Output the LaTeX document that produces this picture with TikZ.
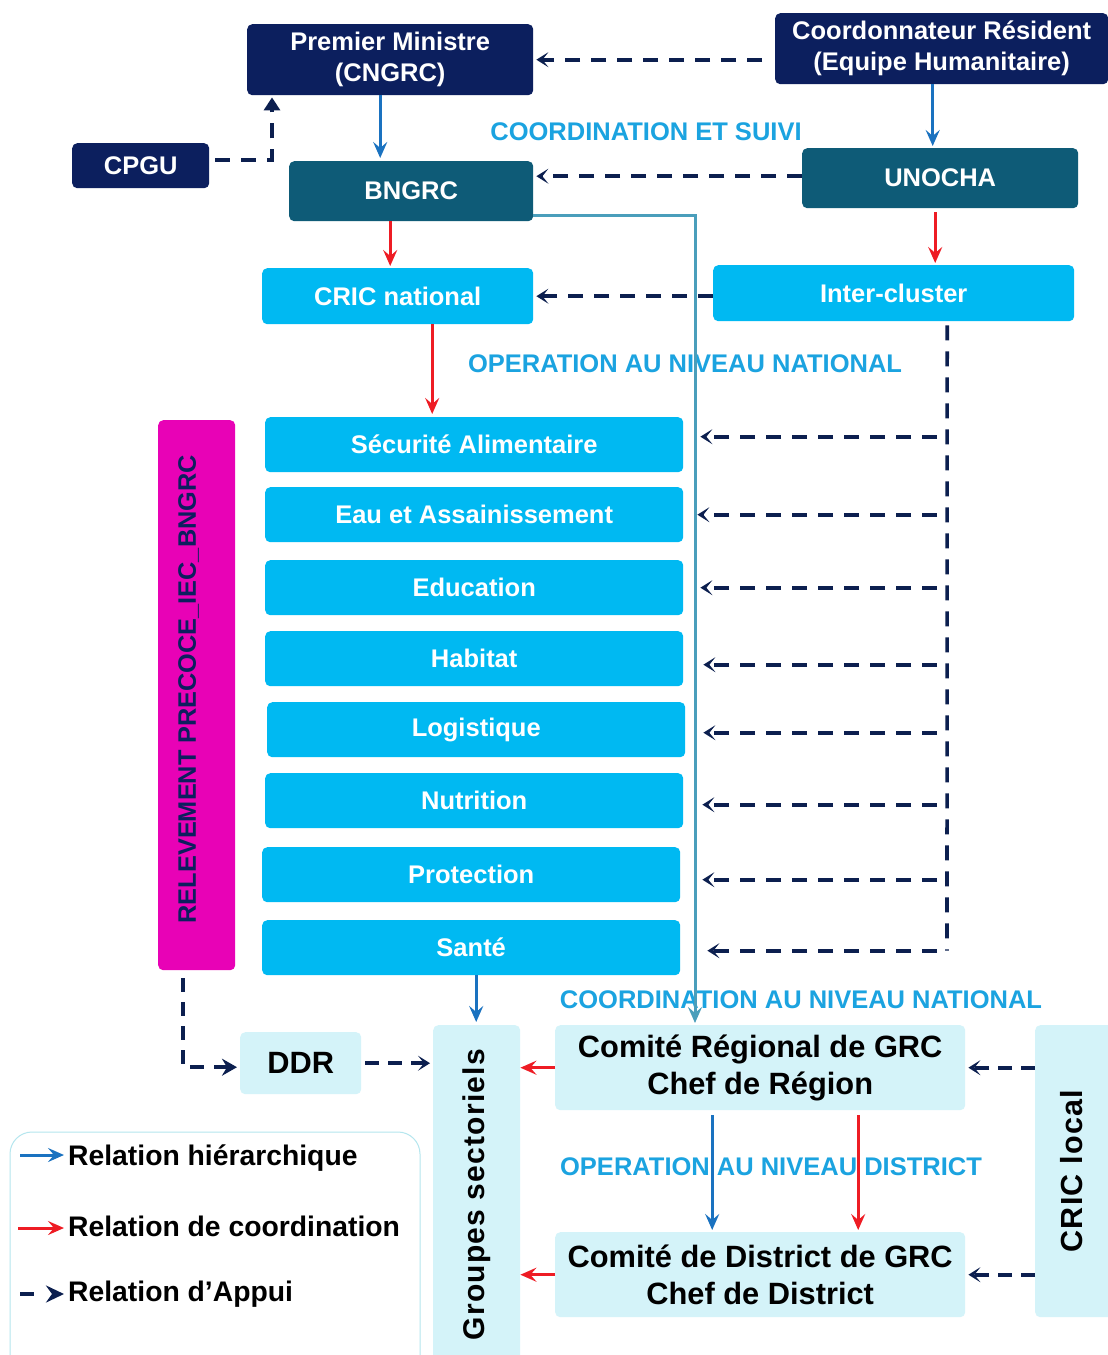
\documentclass[tikz,border=0pt]{standalone}
\usepackage{fontspec}
\setmainfont{Liberation Sans}
\usetikzlibrary{arrows.meta,calc}
\definecolor{navy}{HTML}{0C1F5E}
\definecolor{tealbox}{HTML}{0E5B77}
\definecolor{cyanbox}{HTML}{00B9F2}
\definecolor{palebox}{HTML}{D4F3F9}
\definecolor{magbox}{HTML}{E802B6}
\definecolor{lblue}{HTML}{1BA3E0}
\definecolor{hblue}{HTML}{1A72C0}
\definecolor{cred}{HTML}{EE1C24}
\definecolor{dnavy}{HTML}{0C1F4F}
\definecolor{tline}{HTML}{4A9EBB}
\definecolor{legline}{HTML}{B5E6EE}
\begin{document}
\begin{tikzpicture}[x=1pt,y=-1pt,
  box/.style={rounded corners=5pt, inner sep=0pt, align=center, anchor=north west,
    font=\bfseries\fontsize{25.5}{31}\selectfont, text=white},
  navybox/.style={box, fill=navy},
  tealb/.style={box, fill=tealbox},
  cyanb/.style={box, fill=cyanbox},
  paleb/.style={box, fill=palebox, text=black, font=\bfseries\fontsize{30.8}{37}\selectfont},
  lbl/.style={text=lblue, font=\bfseries\fontsize{25.5}{28}\selectfont, inner sep=0pt},
  hier/.style={draw=hblue, line width=3pt, -{Stealth[length=16pt,width=14pt,inset=6pt]}},
  coord/.style={draw=cred, line width=3pt, -{Stealth[length=16pt,width=14pt,inset=6pt]}},
  appui/.style={draw=dnavy, line width=3.6pt, dash pattern=on 15pt off 11pt, -{Stealth[length=12pt,width=15pt,inset=6pt]}},
  appuiline/.style={draw=dnavy, line width=3.6pt, dash pattern=on 15pt off 11pt},
  vtxt/.style={rotate=90, text=black, font=\bfseries\fontsize{30.5}{34}\selectfont, inner sep=0pt},
  legtxt/.style={anchor=west, inner sep=0pt, font=\bfseries\fontsize{28.3}{32}\selectfont, text=black}
]
\useasboundingbox (0,0) rectangle (1108,1355);
\fill[white] (0,0) rectangle (1108,1355);

% top level
\node[navybox, minimum width=286pt, minimum height=71pt] (pm) at (247,24) {Premier Ministre\\(CNGRC)};
\node[navybox, minimum width=333pt, minimum height=71pt] (cr) at (775,13) {Coordonnateur Résident\\(Equipe Humanitaire)};
\node[navybox, minimum width=137pt, minimum height=45pt] (cpgu) at (72,143) {CPGU};
\node[tealb, minimum width=244pt, minimum height=60pt] (bngrc) at (289,161) {BNGRC};
\node[tealb, minimum width=276pt, minimum height=60pt] (unocha) at (802,148) {UNOCHA};
\node[cyanb, minimum width=271pt, minimum height=56pt] (cricn) at (262,268) {CRIC national};
\node[cyanb, minimum width=361pt, minimum height=56pt] (inter) at (713,265) {Inter-cluster};

% clusters
\node[cyanb, minimum width=418pt, minimum height=55pt] (sa) at (265,417) {Sécurité Alimentaire};
\node[cyanb, minimum width=418pt, minimum height=55pt] (eau) at (265,487) {Eau et Assainissement};
\node[cyanb, minimum width=418pt, minimum height=55pt] (edu) at (265,560) {Education};
\node[cyanb, minimum width=418pt, minimum height=55pt] (hab) at (265,631) {Habitat};
\node[cyanb, minimum width=418pt, minimum height=55pt] (log) at (267,702) {Logistique};
\node[cyanb, minimum width=418pt, minimum height=55pt] (nut) at (265,773) {Nutrition};
\node[cyanb, minimum width=418pt, minimum height=55pt] (pro) at (262,847) {Protection};
\node[cyanb, minimum width=418pt, minimum height=55pt] (san) at (262,920) {Santé};

\node[box, fill=magbox, minimum width=77pt, minimum height=550pt] (rel) at (158,420) {};
\node[rotate=90, text=navy, font=\bfseries\fontsize{25.3}{28}\selectfont, inner sep=0pt] (relt) at ([xshift=-8pt,yshift=6pt]rel.center) {RELEVEMENT PRECOCE\_IEC\_BNGRC};

% bottom
\node[paleb, minimum width=121pt, minimum height=62pt] (ddr) at (240,1032) {DDR};
\node[paleb, minimum width=87pt, minimum height=335pt] (grp) at (433,1025) {};
\node[vtxt, font=\bfseries\fontsize{30}{34}\selectfont] (grpt) at ([yshift=-2pt]grp.center) {\addfontfeature{LetterSpace=4}Groupes sectoriels};
\node[paleb, minimum width=410pt, minimum height=85pt] (reg) at (555,1025) {Comité Régional de GRC\\Chef de Région};
\node[paleb, minimum width=410pt, minimum height=85pt] (dist) at (555,1232) {Comité de District de GRC\\Chef de District};
\node[paleb, minimum width=80pt, minimum height=292pt] (cricl) at (1035,1025) {};
\node[vtxt] (criclt) at ([xshift=-4pt,yshift=0pt]cricl.center) {\addfontfeature{LetterSpace=4}CRIC local};

% labels
\node[lbl] (l1) at (646,132) {COORDINATION ET SUIVI};
\node[lbl] (l2) at (685,364) {OPERATION AU NIVEAU NATIONAL};
\node[lbl] (l3) at (801,1000) {COORDINATION AU NIVEAU NATIONAL};
\node[lbl] (l4) at (771,1167) {OPERATION AU NIVEAU DISTRICT};

% legend
\draw[legline, line width=1pt, rounded corners=22pt] (10,1132) rectangle (420,1380);
\node[legtxt] (g1) at (68,1158) {Relation hiérarchique};
\node[legtxt] (g2) at (68,1226) {Relation de coordination};
\node[legtxt] (g3) at (68,1294) {Relation d’Appui};
\draw[hier] ([xshift=-48pt,yshift=3pt]g1.west) -- ([xshift=-4pt,yshift=3pt]g1.west);
\draw[coord] ([xshift=-50pt,yshift=-2pt]g2.west) -- ([xshift=-4pt,yshift=-2pt]g2.west);
\draw[appui, dash pattern=on 14pt off 30pt, -{Stealth[length=18pt,width=17pt,inset=6pt]}] ([xshift=-48pt]g3.west) -- ([xshift=-4pt]g3.west);

% connectors top
\draw[appui, shorten <=13pt, shorten >=3pt] (pm.east -| cr.west) -- (pm.east);
\draw[hier, shorten >=2pt] ([xshift=-9pt]cr.south) -- ([xshift=-9pt]cr.south |- unocha.north);
\draw[hier, shorten >=3pt] ([xshift=-10pt]pm.south) -- ([xshift=-10pt]pm.south |- bngrc.north);
\draw[appui, -{Triangle[length=13pt,width=16pt]}, shorten <=6pt, shorten >=2pt] ([yshift=6pt]cpgu.east) -| ([xshift=25pt]pm.south west);
\draw[appui, shorten >=3pt] ([yshift=2pt]unocha.west) -- ([yshift=2pt]unocha.west -| bngrc.east);
\draw[coord, shorten >=2pt] ([xshift=-21pt]bngrc.south) -- ([xshift=-21pt]bngrc.south |- cricn.north);
\draw[coord, shorten <=4pt, shorten >=2pt] ([xshift=-5pt]unocha.south) -- ([xshift=-5pt]unocha.south |- inter.north);
\draw[appui, shorten >=3pt] ([yshift=-3pt]inter.west) -- ([yshift=-3pt]inter.west -| cricn.east);
\draw[coord, shorten >=3pt] ([xshift=34.5pt]cricn.south) -- ([xshift=34.5pt]cricn.south |- sa.north);

% teal line
\coordinate (tx) at (695,0);
\draw[draw=tline, line width=3pt, -{Stealth[length=16pt,width=14pt,inset=6pt]}, shorten >=2pt] ([yshift=-24pt]bngrc.east) -| (tx |- reg.north);

% inter-cluster support
\coordinate (vx) at (947,0);
\draw[appuiline] ([xshift=53.5pt,yshift=-4pt]inter.south) -- ($(vx |- san.east)+(0,3)$);
\foreach \c/\s/\d in {sa/17/-8,eau/14/0,edu/17/0,hab/20/6,log/18/3,nut/19/4,pro/22/5,san/27/3}{
  \draw[appui, shorten <=10pt, shorten >=\s pt] ($(vx |- \c.east)+(0,\d)$) -- ($(\c.east)+(0,\d)$);
}

% bottom connectors
\draw[hier, shorten >=3pt] ([xshift=5pt]san.south) -- ([xshift=5pt]san.south |- grp.north);
\draw[appui, dash pattern=on 14pt off 10pt, -{Stealth[length=15pt,width=17pt,inset=5pt]}, shorten <=8pt, shorten >=3pt] ([xshift=-13.5pt]rel.south) |- ([yshift=-4pt]ddr.west);
\draw[appui, dash pattern=on 14pt off 9pt, shorten <=4pt, shorten >=3pt] (ddr.east) -- (ddr.east -| grp.west);
\draw[coord] (reg.west) -- (reg.west -| grp.east);
\draw[coord] (dist.west) -- (dist.west -| grp.east);
\draw[appui, dash pattern=on 14pt off 9pt, shorten >=3pt] (reg.east -| cricl.west) -- (reg.east);
\draw[appui, dash pattern=on 14pt off 9pt, shorten >=3pt] (dist.east -| cricl.west) -- (dist.east);
\draw[hier, shorten <=5pt, shorten >=2pt] ([xshift=-48pt]reg.south) -- ([xshift=-48pt]reg.south |- dist.north);
\draw[coord, shorten <=5pt, shorten >=2pt] ([xshift=98pt]reg.south) -- ([xshift=98pt]reg.south |- dist.north);
\end{tikzpicture}
\end{document}
